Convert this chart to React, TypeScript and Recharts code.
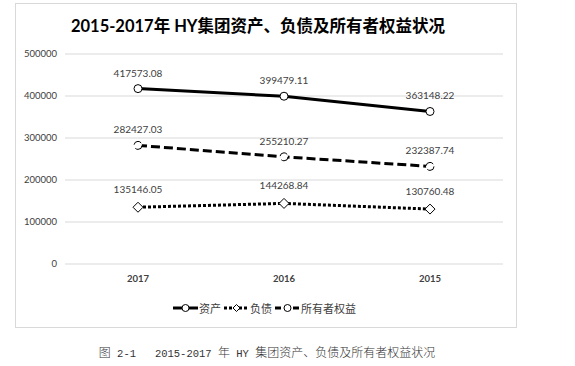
import { LineChart, Line, XAxis, YAxis, CartesianGrid, LabelList } from "recharts";

const years = ["2017", "2016", "2015"];
const assets = [417573.08, 399479.11, 363148.22];
const debt = [135146.05, 144268.84, 130760.48];
const equity = [282427.03, 255210.27, 232387.74];
const yTicks = [0, 100000, 200000, 300000, 400000, 500000];

const data = years.map((year, i) => ({
  year,
  资产: assets[i],
  负债: debt[i],
  所有者权益: equity[i],
}));

const LATIN = "Lato, 'Noto Sans CJK SC', sans-serif";
const CJK = "'Noto Sans CJK SC', Lato, sans-serif";

const Diamond = (props: any) => {
  const { cx, cy, key } = props;
  if (cx == null || cy == null) return null;
  return (
    <path
      key={key}
      d={`M${cx},${cy - 5} L${cx + 5},${cy} L${cx},${cy + 5} L${cx - 5},${cy} Z`}
      fill="#fff"
      stroke="#000"
      strokeWidth={1}
    />
  );
};

const labelStyle = { fontSize: 10, fill: "#404040", fontFamily: LATIN };
const dotStyle = { r: 4, fill: "#fff", stroke: "#000", strokeWidth: 1 };

function LegendItem({ dash, diamond, text }: { dash?: string; diamond?: boolean; text: string }) {
  return (
    <span style={{ display: "inline-flex", alignItems: "center" }}>
      <svg width={27} height={10}>
        <line x1={1} y1={5} x2={26} y2={5} stroke="#000" strokeWidth={3} strokeDasharray={dash} />
        {diamond ? (
          <path d="M13.5,1.5 L17,5 L13.5,8.5 L10,5 Z" fill="#fff" stroke="#000" strokeWidth={1} />
        ) : (
          <circle cx={13.5} cy={5} r={3.5} fill="#fff" stroke="#000" strokeWidth={1} />
        )}
      </svg>
      <span style={{ fontSize: 11, color: "#404040", fontFamily: CJK, marginRight: 2 }}>{text}</span>
    </span>
  );
}

const mono = { fontFamily: "'Liberation Mono', monospace", fontSize: 10.5, fontWeight: 400 };

export default function App() {
  return (
    <div style={{ position: "absolute", left: 0, top: 0, width: 575, height: 366, background: "#fff" }}>
      <div
        style={{
          position: "absolute",
          left: 15,
          top: 3,
          width: 500,
          height: 323,
          border: "1px solid #d9d9d9",
        }}
      />
      <div
        style={{
          position: "absolute",
          left: 15,
          width: 486,
          top: 13,
          textAlign: "center",
          fontSize: 16.5,
          fontWeight: "bold",
          fontFamily: LATIN,
          color: "#000",
          whiteSpace: "pre",
        }}
      >
        2015-2017年 HY集团资产、负债及所有者权益状况
      </div>
      <div style={{ position: "absolute", left: 0, top: 0 }}>
        <LineChart width={575} height={330} data={data} margin={{ top: 54, right: 72, left: 15, bottom: 36 }}>
          <CartesianGrid vertical={false} stroke="#d9d9d9" />
          <XAxis
            dataKey="year"
            axisLine={false}
            tickLine={false}
            height={30}
            padding={{ left: 73, right: 73 }}
            dy={3}
            tick={{ fontSize: 9.5, fontWeight: "bold", fill: "#404040", fontFamily: LATIN }}
          />
          <YAxis
            width={50}
            domain={[0, 500000]}
            ticks={yTicks}
            axisLine={false}
            tickLine={false}
            tick={{ fontSize: 9.5, fill: "#404040", fontFamily: LATIN }}
          />
          <Line
            dataKey="资产"
            stroke="#000"
            strokeWidth={3}
            dot={dotStyle}
            isAnimationActive={false}
          >
            <LabelList dataKey="资产" position="top" offset={12} style={labelStyle} />
          </Line>
          <Line
            dataKey="所有者权益"
            stroke="#000"
            strokeWidth={3}
            strokeDasharray="9 4"
            dot={dotStyle}
            isAnimationActive={false}
          >
            <LabelList dataKey="所有者权益" position="top" offset={12} style={labelStyle} />
          </Line>
          <Line
            dataKey="负债"
            stroke="#000"
            strokeWidth={3}
            strokeDasharray="3 2"
            dot={<Diamond />}
            isAnimationActive={false}
          >
            <LabelList dataKey="负债" position="top" offset={14} style={labelStyle} />
          </Line>
        </LineChart>
      </div>
      <div
        style={{
          position: "absolute",
          left: 15,
          width: 500,
          top: 300,
          display: "flex",
          justifyContent: "center",
        }}
      >
        <LegendItem text="资产" />
        <LegendItem text="负债" dash="3 2" diamond />
        <LegendItem text="所有者权益" dash="6 3" />
      </div>
      <div
        style={{
          position: "absolute",
          left: 0,
          width: 534,
          top: 343,
          textAlign: "center",
          fontSize: 12,
          fontFamily: "'Noto Sans CJK SC', serif",
          fontWeight: 300,
          color: "#333",
          whiteSpace: "pre",
        }}
      >
        图<span style={mono}> 2-1   2015-2017 </span>年<span style={mono}> HY </span>集团资产、负债及所有者权益状况
      </div>
    </div>
  );
}
